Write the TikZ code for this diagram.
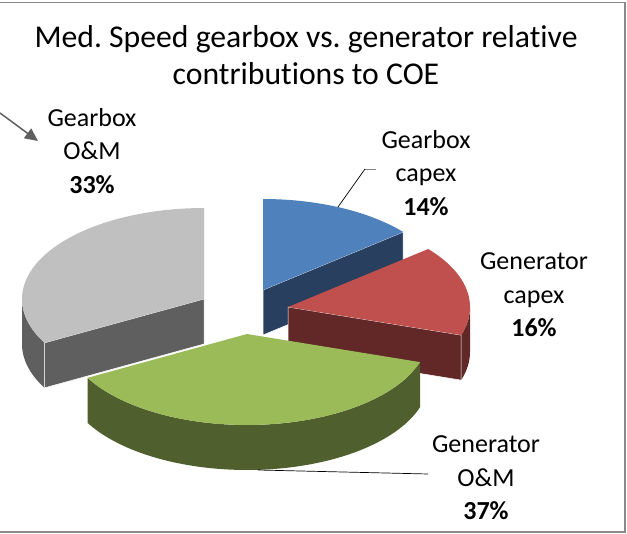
\documentclass[tikz,border=0pt]{standalone}
\usepackage{fontspec}
\setmainfont{Carlito}[Ligatures=NoCommon]
\frenchspacing
\usetikzlibrary{arrows.meta}
\definecolor{bluetop}{HTML}{4F81BD}
\definecolor{blueside}{HTML}{283F5F}
\definecolor{redtop}{HTML}{C0504D}
\definecolor{redside}{HTML}{622828}
\definecolor{greentop}{HTML}{9BBB59}
\definecolor{greenside}{HTML}{4F5F2D}
\definecolor{graytop}{HTML}{C0C0C0}
\definecolor{grayside}{HTML}{5F5F5F}
\definecolor{framegray}{HTML}{8A8A8A}
\begin{document}
\begin{tikzpicture}[x=1pt,y=-1pt,
  lbl/.style={align=center,inner sep=0pt,font=\fontsize{26}{33.5}\selectfont},
  ttl/.style={align=center,inner sep=0pt,font=\fontsize{31.7}{37.5}\selectfont},
  wall/.style={draw=white,line width=0.5pt,line join=round},
  leader/.style={draw=black,line width=0.7pt}]
\useasboundingbox (0,0) rectangle (627,534);
\def\rx{182}\def\ry{91}\def\dep{45}
% frame
\draw[framegray,line width=1.3pt] (0,2.5) -- (625,2.5) -- (625,532) -- (0,532);
% ---------- gray slice (Gearbox O&M) ----------
\fill[grayside] plot[domain=180:208.8,samples=20] ({204+\rx*cos(\x)},{299-\ry*sin(\x)})
  -- plot[domain=208.8:180,samples=20] ({204+\rx*cos(\x)},{299+\dep-\ry*sin(\x)}) -- cycle;
\fill[grayside,wall] (204,299) -- ({204+\rx*cos(208.8)},{299-\ry*sin(208.8)})
  -- ++(0,\dep) -- (204,299+\dep) -- cycle;
\fill[graytop] (204,299) -- plot[domain=90:208.8,samples=50] ({204+\rx*cos(\x)},{299-\ry*sin(\x)}) -- cycle;
% ---------- blue slice (Gearbox capex) ----------
\fill[blueside,wall] (263,290) -- ({263+\rx*cos(39.6)},{290-\ry*sin(39.6)})
  -- ++(0,\dep) -- (263,290+\dep) -- cycle;
\fill[bluetop] (263,290) -- plot[domain=39.6:90,samples=30] ({263+\rx*cos(\x)},{290-\ry*sin(\x)}) -- cycle;
% ---------- red slice (Generator capex) ----------
\fill[redside] plot[domain=-18:0,samples=15] ({288+\rx*cos(\x)},{307-\ry*sin(\x)})
  -- plot[domain=0:-18,samples=15] ({288+\rx*cos(\x)},{307+\dep-\ry*sin(\x)}) -- cycle;
\fill[redside,wall] (288,307) -- ({288+\rx*cos(-18)},{307-\ry*sin(-18)})
  -- ++(0,\dep) -- (288,307+\dep) -- cycle;
\fill[redtop] (288,307) -- plot[domain=-18:39.6,samples=30] ({288+\rx*cos(\x)},{307-\ry*sin(\x)}) -- cycle;
% ---------- green slice (Generator O&M) ----------
\fill[greenside] plot[domain=-151.2:-18,samples=60] ({247+\rx*cos(\x)},{334-\ry*sin(\x)})
  -- plot[domain=-18:-151.2,samples=60] ({247+\rx*cos(\x)},{334+\dep-\ry*sin(\x)}) -- cycle;
\fill[greentop] (247,334) -- plot[domain=-151.2:-18,samples=60] ({247+\rx*cos(\x)},{334-\ry*sin(\x)}) -- cycle;
% ---------- title ----------
\node[ttl] (title) at (306,55) {Med. Speed gearbox vs. generator relative\\contributions to COE};
% ---------- labels ----------
\node[lbl] (lgo) at (92,151) {Gearbox\\O\&M\\\textbf{33\%}};
\node[lbl] (lgc) at (426,173) {Gearbox\\capex\\\textbf{14\%}};
\node[lbl] (lnc) at (534,295) {Generator\\capex\\\textbf{16\%}};
\node[lbl] (lno) at (486,478) {Generator\\O\&M\\\textbf{37\%}};
% ---------- leaders ----------
\coordinate (arrowstart) at (0,113);
\coordinate (arrowtip) at (38,141);
\draw[draw=grayside,line width=1.5pt,-{Triangle[length=13pt,width=12pt]}] (arrowstart) -- (arrowtip);
\coordinate (gcA) at (376,169);
\coordinate (gcB) at (365,169);
\coordinate (gcC) at (338,207);
\draw[draw=gray,line width=0.8pt] (gcA) -- (gcB);
\draw[leader] (gcB) -- (gcC);
\coordinate (noA) at (258,470);
\coordinate (noB) at (428,474);
\draw[leader] (noA) -- (noB);
\end{tikzpicture}
\end{document}
